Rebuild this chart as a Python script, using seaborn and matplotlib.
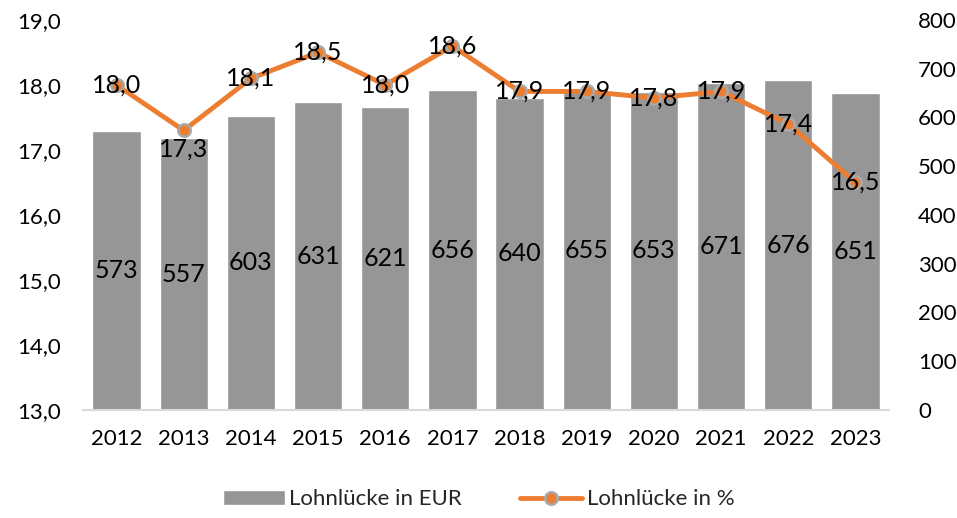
import numpy as np
import pandas as pd
import matplotlib
matplotlib.use('Agg')
import matplotlib.pyplot as plt
import seaborn as sns
from matplotlib.lines import Line2D
from matplotlib.patches import Patch

# chart values
years = ['2012', '2013', '2014', '2015', '2016', '2017', '2018', '2019', '2020', '2021', '2022', '2023']
gap_eur = [573, 557, 603, 631, 621, 656, 640, 655, 653, 671, 676, 651]
gap_pct = [18.0, 17.3, 18.1, 18.5, 18.0, 18.6, 17.9, 17.9, 17.8, 17.9, 17.4, 16.5]

df = pd.DataFrame({'Jahr': years, 'EUR': gap_eur, 'Prozent': gap_pct})

sns.set_style('white')
plt.rcParams['font.family'] = ['Lato', 'DejaVu Sans']

bar_color = '#969696'
line_color = '#ED7D31'
marker_edge = '#A9A9A9'
fs = 16
fs_lab = 18

fig = plt.figure(figsize=(9.57, 5.18), dpi=100)
ax = fig.add_axes([0.0867, 0.2085, 0.8423, 0.753])

# bars on primary axis, scale shown on the right
sns.barplot(data=df, x='Jahr', y='EUR', color=bar_color, width=0.72,
            saturation=1, ax=ax)
ax.set_ylim(0, 800)
ax.set_xlim(-0.5, len(years) - 0.5)
ax.set_yticks(range(0, 801, 100))
for i, v in enumerate(gap_eur):
    ax.text(i, v / 2, str(v), ha='center', va='center', fontsize=fs_lab, color='black')

# line on twin axis, scale shown on the left
ax2 = ax.twinx()
x_pos = np.arange(len(years))
sns.lineplot(x=x_pos, y=gap_pct, color=line_color, linewidth=3.5, marker='o',
             markersize=9, markerfacecolor=line_color, markeredgecolor=marker_edge,
             markeredgewidth=1.8, ax=ax2)
ax2.set_ylim(13, 19)
ax2.set_yticks(np.arange(13, 19.01, 1))
ax2.set_yticklabels([f'{v:.1f}'.replace('.', ',') for v in np.arange(13, 19.01, 1)])

# swap sides: EUR scale right, percent scale left
ax.yaxis.tick_right()
ax2.yaxis.tick_left()

label_offset = {1: -0.28}
for i, v in enumerate(gap_pct):
    ax2.text(i, v + label_offset.get(i, 0), f'{v:.1f}'.replace('.', ','),
             ha='center', va='center', fontsize=fs_lab, color='black')

for a in (ax, ax2):
    for s in ['top', 'left', 'right']:
        a.spines[s].set_visible(False)
    a.set_xlabel('')
    a.set_ylabel('')
ax.tick_params(axis='y', length=0, labelsize=fs, colors='black', pad=21)
ax2.tick_params(axis='y', length=0, labelsize=fs, colors='black', pad=16)
ax2.spines['bottom'].set_visible(False)
ax.spines['bottom'].set_color('#D9D9D9')
ax.spines['bottom'].set_linewidth(1.5)

# ticks between categories
ax.set_xticks(np.arange(-0.5, len(years), 1), minor=True)
ax.tick_params(axis='x', which='minor', length=8, width=1.5, color='#D9D9D9', direction='out')
ax.tick_params(axis='x', which='major', length=0, labelsize=fs, colors='black', pad=14)

handles = [Patch(facecolor=bar_color, label='Lohnlücke in EUR'),
           Line2D([0], [0], color=line_color, linewidth=3.5, marker='o', markersize=9,
                  markerfacecolor=line_color, markeredgecolor=marker_edge,
                  markeredgewidth=1.8, label='Lohnlücke in %')]
fig.legend(handles=handles, loc='lower center', bbox_to_anchor=(0.5, -0.022), ncol=2,
           frameon=False, fontsize=fs, handlelength=2.8, columnspacing=2.6,
           handletextpad=0.2)

plt.savefig('out.png', dpi=100)
plt.close()
